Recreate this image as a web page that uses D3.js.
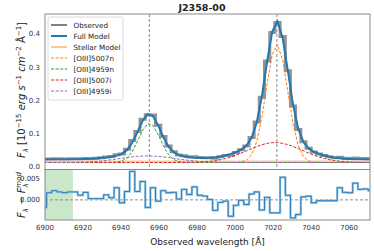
<!DOCTYPE html>
<html>
<head>
<meta charset="utf-8">
<script src="https://cdn.jsdelivr.net/npm/d3@7"></script>
<style>
  body { margin: 0; background: #fff; }
  text { font-family: "DejaVu Sans", sans-serif; }
</style>
</head>
<body>
<div id="chart"></div>
<script>
// bin centres of the spectrum (observed wavelength, Angstrom)
const wave = [6899.5, 6902.2, 6904.9, 6907.7, 6910.4, 6913.1, 6915.9, 6918.6, 6921.3, 6924.1,
              6926.8, 6929.5, 6932.2, 6935.0, 6937.7, 6940.4, 6943.2, 6945.9, 6948.6, 6951.4,
              6954.1, 6956.8, 6959.5, 6962.3, 6965.0, 6967.7, 6970.5, 6973.2, 6975.9, 6978.7,
              6981.4, 6984.1, 6986.8, 6989.6, 6992.3, 6995.0, 6997.8, 7000.5, 7003.2, 7006.0,
              7008.7, 7011.4, 7014.1, 7016.9, 7019.6, 7022.3, 7025.1, 7027.8, 7030.5, 7033.2,
              7036.0, 7038.7, 7041.4, 7044.2, 7046.9, 7049.6, 7052.4, 7055.1, 7057.8, 7060.5,
              7063.3, 7066.0, 7068.7, 7071.5];
// residual F - Fmod per bin
const residual = [-0.0018, 0.0017, 0.0022, 0.0019, 0.0017, 0.0019, 0.0019, 0.0011, 0.0018, 0.0003,
                  0.0003, 0.0003, 0.0012, 0.0005, 0.0029, -0.0007, 0.0020, 0.0068, 0.0020, 0.0044,
                  -0.0018, 0.0029, -0.0003, 0.0022, 0.0017, 0.0018, 0.0002, 0.0025, 0.0013, 0.0031,
                  0.0011, 0.0009, 0.0001, -0.0025, -0.0006, -0.0003, -0.0039, -0.0013, -0.0001, -0.0011,
                  0.0014, 0.0019, -0.0024, 0.0006, -0.0031, -0.0031, 0.0054, 0.0011, -0.0043, -0.0035,
                  0.0007, 0.0009, -0.0007, -0.0002, -0.0002, -0.0002, -0.0002, 0.0029, 0.0018, 0.0017,
                  0.0040, 0.0025, 0.0026, 0.0022];

// gaussian components of the fit
const compNames   = ["[OIII]5007n", "[OIII]4959n", "[OIII]5007i", "[OIII]4959i"];
const compCenters = [7022.0, 6954.9, 7021.0, 6954.0];
const compAmps    = [0.356, 0.118, 0.060, 0.020];
const compSigmas  = [5.7, 5.65, 14.5, 14.4];
const compColors  = ["#ff7f0e", "#2ca02c", "#d62728", "#9467bd"];

const stellarLevel = 0.016;   // stellar model (flat)
const compBase = 0.013;       // level the dashed components sit on
const fullBase = 0.022;       // continuum under the full model

const mainTicks = [0.0, 0.1, 0.2, 0.3, 0.4];
const resTicks = [0.000, 0.005];
const xTicks = [6900, 6920, 6940, 6960, 6980, 7000, 7020, 7040, 7060];
const lineCenters = [6954.9, 7022.0];
const maskRange = [6900, 6914.7];

const W = 374, H = 251;
const left = 45, right = 370, mainTop = 14, mainBot = 169.5, resBot = 220;

const svg = d3.select("#chart").append("svg")
    .attr("width", W).attr("height", H);

const x = d3.scaleLinear().domain([6900, 7071]).range([left, right]);
const y = d3.scaleLinear().domain([-0.008, 0.46]).range([mainBot, mainTop]);
const yr = d3.scaleLinear().domain([-0.0048, 0.00725]).range([resBot, mainBot]);

function gauss(w, i) {
    return compAmps[i] * Math.exp(-0.5 * Math.pow((w - compCenters[i]) / compSigmas[i], 2));
}

const comps = compNames.map((n, i) => wave.map(w => compBase + gauss(w, i)));
const full = wave.map(w => fullBase + d3.sum(compNames, (n, i) => gauss(w, i)));
const observed = full.map((f, i) => f + residual[i]);

const defs = svg.append("defs");
defs.append("clipPath").attr("id", "clipMain").append("rect")
    .attr("x", left).attr("y", mainTop).attr("width", right - left).attr("height", mainBot - mainTop);
defs.append("clipPath").attr("id", "clipRes").append("rect")
    .attr("x", left).attr("y", mainBot).attr("width", right - left).attr("height", resBot - mainBot);

// ---- main panel
const gm = svg.append("g").attr("clip-path", "url(#clipMain)");

lineCenters.forEach(c => {
    gm.append("line").attr("x1", x(c)).attr("x2", x(c)).attr("y1", mainTop).attr("y2", mainBot)
      .attr("stroke", "#8c8c8c").attr("stroke-width", 1).attr("stroke-dasharray", "3,2");
});

const lineM = d3.line().x((d, i) => x(wave[i])).y(d => y(d));

gm.append("path").datum(observed)
  .attr("d", lineM.curve(d3.curveStep))
  .attr("fill", "none").attr("stroke", "#808080").attr("stroke-width", 3).attr("opacity", 0.85);

lineM.curve(d3.curveLinear);
gm.append("path").datum(full)
  .attr("d", lineM)
  .attr("fill", "none").attr("stroke", "#1f77b4").attr("stroke-width", 2);

gm.append("path").datum(wave.map(() => stellarLevel))
  .attr("d", lineM)
  .attr("fill", "none").attr("stroke", "#f5c99b").attr("stroke-width", 2);

comps.forEach((c, i) => {
    gm.append("path").datum(c)
      .attr("d", lineM)
      .attr("fill", "none").attr("stroke", compColors[i]).attr("stroke-width", 1)
      .attr("stroke-dasharray", "3,1.6");
});

svg.append("rect").attr("x", left).attr("y", mainTop).attr("width", right - left)
   .attr("height", mainBot - mainTop).attr("fill", "none").attr("stroke", "#8a8a8a").attr("stroke-width", 1);

mainTicks.forEach(t => {
    svg.append("text").attr("x", 40).attr("y", y(t)).attr("dy", "0.35em")
       .attr("text-anchor", "end").attr("font-size", 7).attr("fill", "#333")
       .text(d3.format(".1f")(t));
});

// ---- residual panel
const gr = svg.append("g").attr("clip-path", "url(#clipRes)");

gr.append("rect").attr("x", x(maskRange[0])).attr("y", mainBot)
  .attr("width", x(maskRange[1]) - x(maskRange[0])).attr("height", resBot - mainBot)
  .attr("fill", "#2ca02c").attr("opacity", 0.25);

gr.append("line").attr("x1", left).attr("x2", right).attr("y1", yr(0)).attr("y2", yr(0))
  .attr("stroke", "#8c8c8c").attr("stroke-width", 1).attr("stroke-dasharray", "3,2");

const lineR = d3.line().x((d, i) => x(wave[i])).y(d => yr(d)).curve(d3.curveStep);
gr.append("path").datum(residual).attr("d", lineR)
  .attr("fill", "none").attr("stroke", "#9ecae1").attr("stroke-width", 2.4);
gr.append("path").datum(residual).attr("d", lineR)
  .attr("fill", "none").attr("stroke", "#2b7bba").attr("stroke-width", 1);

svg.append("rect").attr("x", left).attr("y", mainBot).attr("width", right - left)
   .attr("height", resBot - mainBot).attr("fill", "none").attr("stroke", "#8a8a8a").attr("stroke-width", 1);

resTicks.forEach(t => {
    svg.append("text").attr("x", 40).attr("y", yr(t)).attr("dy", "0.35em")
       .attr("text-anchor", "end").attr("font-size", 7).attr("fill", "#333")
       .text(d3.format(".3f")(t));
});

xTicks.forEach(t => {
    svg.append("text").attr("x", x(t)).attr("y", 230)
       .attr("text-anchor", "middle").attr("font-size", 7).attr("fill", "#333")
       .text(t);
});

// ---- labels
svg.append("text").attr("x", 202).attr("y", 10.5).attr("text-anchor", "middle")
   .attr("font-size", 9.5).attr("font-weight", "bold").attr("fill", "#222").text("J2358-00");

svg.append("text").attr("x", 207.5).attr("y", 245).attr("text-anchor", "middle")
   .attr("font-size", 9).attr("fill", "#222").text("Observed wavelength [Å]");

function rich(sel, parts, size) {
    let shift = 0;
    parts.forEach(p => {
        const target = p.pos === "sup" ? -size * 0.4 : p.pos === "sub" ? size * 0.25 : 0;
        sel.append("tspan").attr("dy", target - shift).attr("dx", p.dx || 0)
           .attr("font-size", p.pos ? size * 0.7 : size)
           .attr("font-style", p.i ? "italic" : "normal").text(p.t);
        shift = target;
    });
}

const yl = svg.append("text").attr("transform", "translate(25,90) rotate(-90)")
    .attr("text-anchor", "middle").attr("fill", "#222");
rich(yl, [
    {t: "F", i: true}, {t: "λ", i: true, pos: "sub"}, {t: " [10"}, {t: "−15", pos: "sup"},
    {t: " "}, {t: "erg", i: true}, {t: " s", i: true}, {t: "−1", pos: "sup"},
    {t: " "}, {t: "cm", i: true}, {t: "−2", pos: "sup"}, {t: " Å"}, {t: "−1", pos: "sup"}, {t: "]"}
], 10);

const rl = svg.append("text").attr("transform", "translate(25,195) rotate(-90)")
    .attr("text-anchor", "middle").attr("fill", "#222");
rich(rl, [
    {t: "F", i: true}, {t: "λ", i: true, pos: "sub"}, {t: " − "}, {t: "F", i: true},
    {t: "λ", i: true, pos: "sub"}, {t: "mod", i: true, pos: "sup", dx: -4.3}
], 10);

// ---- legend
const legItems = ["Observed", "Full Model", "Stellar Model"].concat(compNames);
const legColors = ["#808080", "#1f77b4", "#f5c99b"].concat(compColors);
const lg = svg.append("g");
lg.append("rect").attr("x", 48).attr("y", 17).attr("width", 75).attr("height", 83).attr("rx", 2)
  .attr("fill", "#fff").attr("fill-opacity", 0.85).attr("stroke", "#d0d0d0").attr("stroke-width", 0.8);
legItems.forEach((name, i) => {
    const yy = 25 + i * 11;
    lg.append("line").attr("x1", 51).attr("x2", 67).attr("y1", yy).attr("y2", yy)
      .attr("stroke", legColors[i]).attr("stroke-width", i < 3 ? 2 : 1)
      .attr("stroke-dasharray", i < 3 ? null : "3,1.6");
    lg.append("text").attr("x", 73.5).attr("y", yy).attr("dy", "0.35em")
      .attr("font-size", 7.2).attr("fill", "#222").text(name);
});
</script>
</body>
</html>
